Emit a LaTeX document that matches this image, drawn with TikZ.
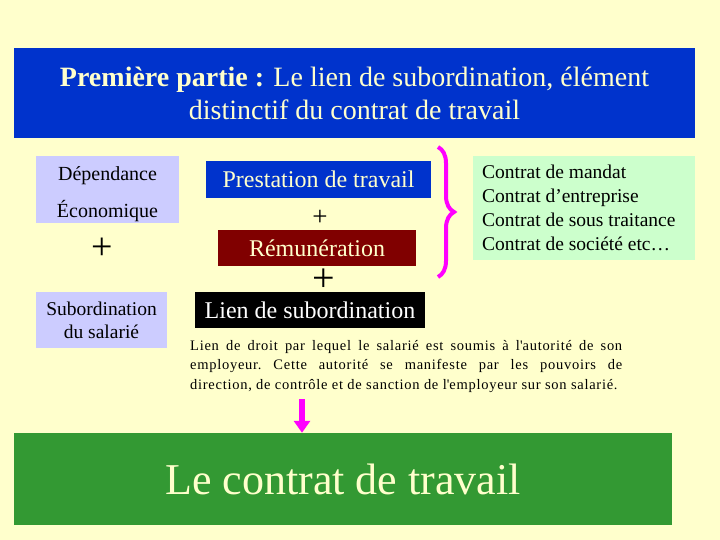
\documentclass[tikz,border=0pt]{standalone}
\usepackage{fontspec}
\setmainfont{Liberation Serif}
\usetikzlibrary{decorations.pathreplacing, arrows.meta}
\definecolor{fond}{HTML}{FFFFCC}
\definecolor{bleu}{HTML}{0033CC}
\definecolor{bordeaux}{HTML}{800000}
\definecolor{lavande}{HTML}{CCCCFF}
\definecolor{vertclair}{HTML}{CCFFCC}
\definecolor{vert}{HTML}{339933}
\definecolor{creme}{HTML}{FFFFCC}
\definecolor{rose}{HTML}{FF00FF}
\begin{document}
\begin{tikzpicture}[x=1pt, y=-1pt,
    cadre/.style={inner sep=0pt, align=center},
    plus/.style={inner sep=0pt, font=\fontsize{38}{38}\selectfont}]
  \fill [fond] (0, 0) rectangle (720, 540);
  \node [cadre, fill=bleu, text=creme, minimum width=681, minimum height=90,
    font=\fontsize{28}{33}\selectfont] (titre) at (354.5, 93)
    {\textbf{Première partie :} Le lien de subordination, élément\\distinctif du contrat de travail};
  \node [cadre, fill=lavande, minimum width=143, minimum height=67, text height=60pt,
    font=\fontsize{20}{37}\selectfont] (dependance) at (107.5, 189.5) {Dépendance\\Économique};
  \node [plus] (plusa) at (102, 249) {+};
  \node [cadre, fill=lavande, minimum width=131, minimum height=56,
    font=\fontsize{19.5}{23}\selectfont] (subord) at (101.5, 320) {Subordination\\du salarié};
  \node [cadre, fill=bleu, text=creme, minimum width=225, minimum height=37,
    font=\fontsize{24}{24}\selectfont] (prestation) at (318.5, 179.5) {Prestation de travail};
  \node [plus, font=\fontsize{27}{27}\selectfont] (plusb) at (320, 218) {+};
  \node [cadre, fill=bordeaux, text=creme, minimum width=198, minimum height=36,
    font=\fontsize{24}{24}\selectfont] (remun) at (317, 248) {Rémunération};
  \node [cadre, fill=black, text=white, minimum width=230, minimum height=36,
    font=\fontsize{24}{24}\selectfont] (lien) at (310, 310) {Lien de subordination};
  \node [plus, font=\fontsize{40}{40}\selectfont] (plusc) at (324, 280) {+};
  \draw [rose, line width=4pt, decorate, decoration={brace, amplitude=16pt}]
    (438, 147) -- (438, 277);
  \node [cadre, fill=vertclair, minimum width=222, minimum height=104, align=flush left,
    inner xsep=9pt, anchor=west, text width=204,
    font=\fontsize{19.5}{24}\selectfont] (autres) at (473, 208)
    {Contrat de mandat\\Contrat d’entreprise\\Contrat de sous traitance\\Contrat de société etc…};
  \node [inner sep=0pt, anchor=north west, text width=432, align=justify,
    font=\fontsize{14.5}{19.5}\selectfont\addfontfeature{LetterSpace=5}\frenchspacing] (definition) at (190, 340)
    {Lien de droit par lequel le salarié est soumis à l\textquotesingle autorité de son\linebreak
     employeur. Cette autorité se manifeste par les pouvoirs de\linebreak
     direction, de contrôle et de sanction de l\textquotesingle employeur sur son salarié.};
  \node [cadre, fill=vert, text=creme, minimum width=658, minimum height=92,
    font=\fontsize{44}{44}\selectfont] (contrat) at (343, 479) {Le contrat de travail};
  \coordinate (fleche) at (302, 399);
  \draw [-{Triangle[length=12pt, width=16pt]}, rose, line width=6pt]
    (fleche) -- (fleche |- contrat.north);
\end{tikzpicture}
\end{document}
